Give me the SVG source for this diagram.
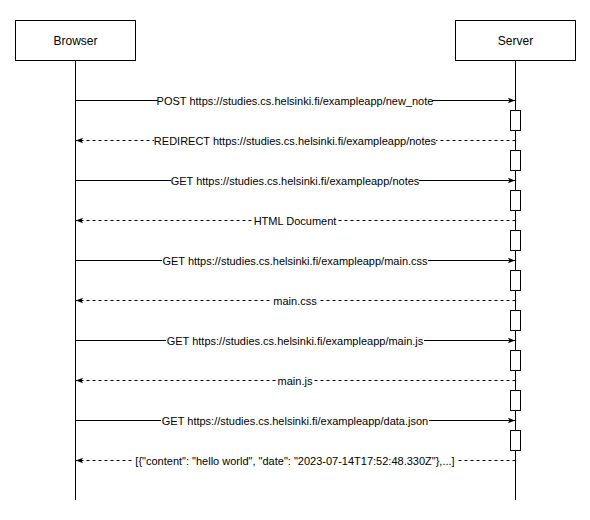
<svg xmlns="http://www.w3.org/2000/svg" width="590" height="520" viewBox="0 0 590 520">
  <style>
    .actor { fill: #ffffff; stroke: #000000; stroke-width: 1; }
    .life { stroke: #000000; stroke-width: 1; fill: none; }
    .act { fill: #ffffff; stroke: #000000; stroke-width: 1; }
    .msg { stroke: #000000; stroke-width: 1; fill: none; }
    .ret { stroke: #000000; stroke-width: 1; fill: none; stroke-dasharray: 3 3; }
    .name { font-family: "Liberation Sans", Arial, sans-serif; font-size: 12px; fill: #000000; text-anchor: middle; }
    .lbl { font-family: "Liberation Sans", Arial, sans-serif; font-size: 11px; fill: #000000; text-anchor: middle; }
    .bg { fill: #ffffff; }
  </style>
  <defs>
    <marker id="arrow" viewBox="0 0 10 10" refX="10" refY="5" markerWidth="7" markerHeight="7" orient="auto" markerUnits="userSpaceOnUse">
      <path d="M0,1 L10,5 L0,9 L2,5 Z" fill="#000000"/>
    </marker>
  </defs>
  <rect width="590" height="520" fill="#ffffff"/>

  <!-- lifelines -->
  <g id="lifelines">
    <line class="life" x1="75.5" y1="60" x2="75.5" y2="500"/>
    <line class="life" x1="515.5" y1="60" x2="515.5" y2="500"/>
  </g>

  <g id="browser">
    <rect class="actor" x="15.5" y="20.5" width="120" height="40"/>
    <text class="name" x="75.5" y="44.5">Browser</text>
  </g>

  <g id="server">
    <rect class="actor" x="455.5" y="20.5" width="120" height="40"/>
    <text class="name" x="515.5" y="44.5">Server</text>
    <!-- activation bars -->
    <rect class="act" x="510.5" y="110.5" width="10" height="20"/>
    <rect class="act" x="510.5" y="150.5" width="10" height="20"/>
    <rect class="act" x="510.5" y="190.5" width="10" height="20"/>
    <rect class="act" x="510.5" y="230.5" width="10" height="20"/>
    <rect class="act" x="510.5" y="270.5" width="10" height="20"/>
    <rect class="act" x="510.5" y="310.5" width="10" height="20"/>
    <rect class="act" x="510.5" y="350.5" width="10" height="20"/>
    <rect class="act" x="510.5" y="390.5" width="10" height="20"/>
    <rect class="act" x="510.5" y="430.5" width="10" height="20"/>
  </g>

  <g id="connectors">
    <line class="msg" x1="75.5" y1="100.5" x2="515" y2="100.5" marker-end="url(#arrow)"/>
    <line class="ret" x1="515.5" y1="140.5" x2="76" y2="140.5" marker-end="url(#arrow)"/>
    <line class="msg" x1="75.5" y1="180.5" x2="515" y2="180.5" marker-end="url(#arrow)"/>
    <line class="ret" x1="515.5" y1="220.5" x2="76" y2="220.5" marker-end="url(#arrow)"/>
    <line class="msg" x1="75.5" y1="260.5" x2="515" y2="260.5" marker-end="url(#arrow)"/>
    <line class="ret" x1="515.5" y1="300.5" x2="76" y2="300.5" marker-end="url(#arrow)"/>
    <line class="msg" x1="75.5" y1="340.5" x2="515" y2="340.5" marker-end="url(#arrow)"/>
    <line class="ret" x1="515.5" y1="380.5" x2="76" y2="380.5" marker-end="url(#arrow)"/>
    <line class="msg" x1="75.5" y1="420.5" x2="515" y2="420.5" marker-end="url(#arrow)"/>
    <line class="ret" x1="515.5" y1="460.5" x2="76" y2="460.5" marker-end="url(#arrow)"/>

    <!-- labels with white backing -->
    <rect class="bg" x="158" y="94" width="274" height="13"/>
    <text class="lbl" x="295" y="104.5">POST https://studies.cs.helsinki.fi/exampleapp/new_note</text>
    <rect class="bg" x="154" y="134" width="282" height="13"/>
    <text class="lbl" x="295" y="144.5">REDIRECT https://studies.cs.helsinki.fi/exampleapp/notes</text>
    <rect class="bg" x="171" y="174" width="248" height="13"/>
    <text class="lbl" x="295" y="184.5">GET https://studies.cs.helsinki.fi/exampleapp/notes</text>
    <rect class="bg" x="253" y="214" width="84" height="13"/>
    <text class="lbl" x="295" y="224.5">HTML Document</text>
    <rect class="bg" x="162" y="254" width="266" height="13"/>
    <text class="lbl" x="295" y="264.5">GET https://studies.cs.helsinki.fi/exampleapp/main.css</text>
    <rect class="bg" x="272" y="294" width="46" height="13"/>
    <text class="lbl" x="295" y="304.5">main.css</text>
    <rect class="bg" x="166" y="334" width="258" height="13"/>
    <text class="lbl" x="295" y="344.5">GET https://studies.cs.helsinki.fi/exampleapp/main.js</text>
    <rect class="bg" x="277" y="374" width="36" height="13"/>
    <text class="lbl" x="295" y="384.5">main.js</text>
    <rect class="bg" x="161" y="414" width="268" height="13"/>
    <text class="lbl" x="295" y="424.5">GET https://studies.cs.helsinki.fi/exampleapp/data.json</text>
    <rect class="bg" x="133" y="454" width="324" height="13"/>
    <text class="lbl" x="295" y="464.5">[{"content": "hello world", "date": "2023-07-14T17:52:48.330Z"},...]</text>
  </g>
</svg>
